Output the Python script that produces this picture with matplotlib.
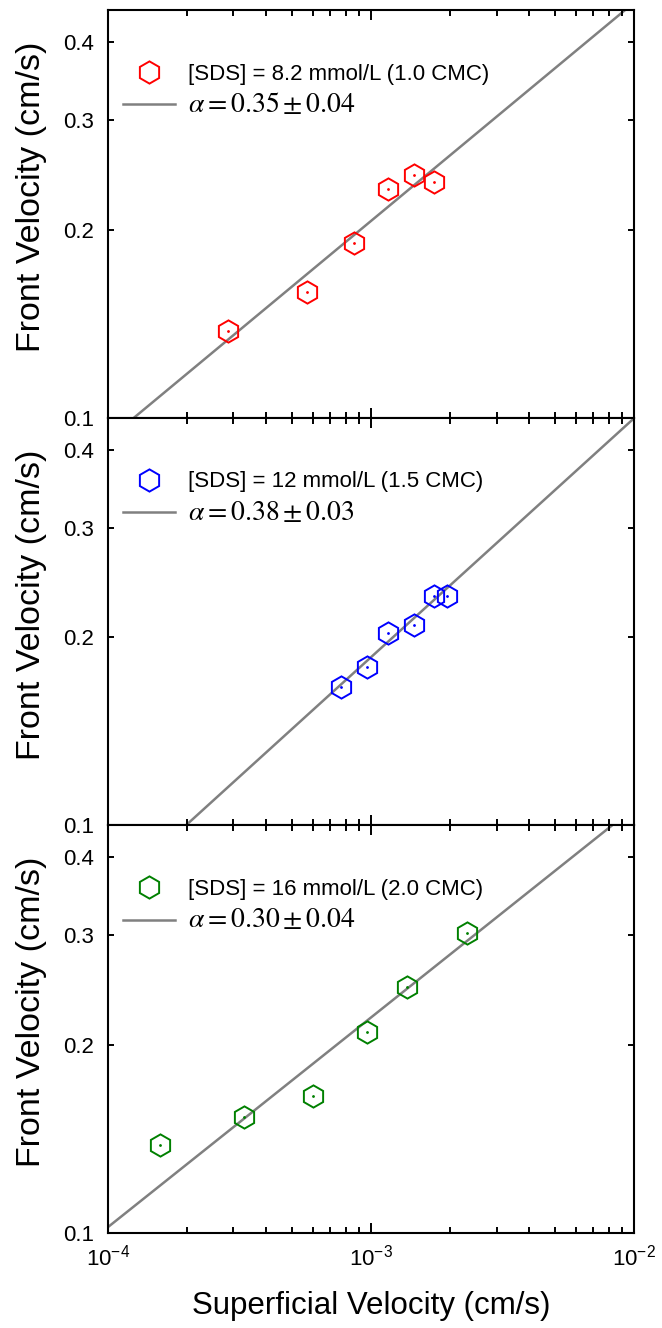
import numpy as np
import matplotlib.pyplot as plt
from matplotlib.lines import Line2D
from matplotlib.ticker import FixedLocator, FixedFormatter, LogLocator, NullFormatter, NullLocator

plt.rcParams['font.family'] = ['Liberation Sans', 'DejaVu Sans']

# superficial velocity (cm/s) vs front velocity (cm/s)
u_10 = [2.85e-4, 5.72e-4, 8.64e-4, 1.16e-3, 1.45e-3, 1.74e-3]
v_10 = [0.1375, 0.1588, 0.1905, 0.2325, 0.2445, 0.2383]
u_15 = [7.69e-4, 9.63e-4, 1.16e-3, 1.45e-3, 1.74e-3, 1.94e-3]
v_15 = [0.1663, 0.1794, 0.2036, 0.2092, 0.2330, 0.2330]
u_20 = [1.58e-4, 3.29e-4, 6.03e-4, 9.66e-4, 1.37e-3, 2.32e-3]
v_20 = [0.1385, 0.1537, 0.1656, 0.2097, 0.2477, 0.3020]

series_u = [u_10, u_15, u_20]
series_v = [v_10, v_15, v_20]
labels = ['[SDS] = 8.2 mmol/L (1.0 CMC)',
          '[SDS] = 12 mmol/L (1.5 CMC)',
          '[SDS] = 16 mmol/L (2.0 CMC)']
alpha_labels = [r'$\alpha = 0.35 \pm 0.04$',
                r'$\alpha = 0.38 \pm 0.03$',
                r'$\alpha = 0.30 \pm 0.04$']
colors = ['#ff0000', '#0000ff', '#008000']

# power-law fit lines: front velocity at u = 1e-4 cm/s, and slope
fit_v0 = [0.0923, 0.0770, 0.1022]
fit_slope = [0.35, 0.383, 0.336]

xticks = [1e-4, 1e-3, 1e-2]
xticklabels = [r'$\mathregular{10^{-4}}$', r'$\mathregular{10^{-3}}$', r'$\mathregular{10^{-2}}$']
yticks = [0.1, 0.2, 0.3, 0.4]
yticklabels = ['0.1', '0.2', '0.3', '0.4']

fig, axes = plt.subplots(3, 1, figsize=(6.62, 13.28), dpi=100, sharex=True)
fig.subplots_adjust(left=0.163, right=0.958, top=0.9925, bottom=0.0715, hspace=0)

x_fit = np.array([1e-4, 1e-2])
gray = '#808080'

for i, ax in enumerate(axes):
    c = colors[i]
    ax.set_xscale('log')
    ax.set_yscale('log')
    y_fit = fit_v0[i] * (x_fit / 1e-4) ** fit_slope[i]
    ax.plot(x_fit, y_fit, color=gray, lw=1.8, zorder=1)
    ax.plot(series_u[i], series_v[i], ls='none', marker='h', ms=16,
            mfc='none', mec=c, mew=1.4, zorder=2)
    ax.plot(series_u[i], series_v[i], ls='none', marker='.', ms=2, color=c, zorder=3)

    ax.set_xlim(1e-4, 1e-2)
    ax.set_ylim(0.1, 0.45)
    ax.yaxis.set_major_locator(FixedLocator(yticks))
    ax.yaxis.set_major_formatter(FixedFormatter(yticklabels))
    ax.yaxis.set_minor_locator(NullLocator())
    ax.xaxis.set_major_locator(FixedLocator(xticks))
    ax.xaxis.set_major_formatter(FixedFormatter(xticklabels))
    ax.xaxis.set_minor_locator(LogLocator(base=10, subs=range(2, 10)))
    ax.xaxis.set_minor_formatter(NullFormatter())

    ax.tick_params(which='both', direction='in', top=True, right=True, width=1.4, labelsize=16)
    ax.tick_params(axis='x', which='major', length=7, pad=8)
    ax.tick_params(axis='x', which='minor', length=4.5)
    ax.tick_params(axis='y', which='major', length=4, pad=10)
    for s in ax.spines.values():
        s.set_linewidth(1.5)

    ax.set_ylabel('Front Velocity (cm/s)', fontsize=24.5)
    ax.yaxis.set_label_coords(-0.115, 0.542)

    h_mark = Line2D([], [], ls='none', marker='h', ms=16, mfc='none', mec=c, mew=1.4)
    h_line = Line2D([], [], color=gray, lw=1.8)
    leg = ax.legend([h_mark, h_line], [labels[i], alpha_labels[i]],
                    loc='upper left', bbox_to_anchor=(0.0285, 0.868),
                    frameon=False, fontsize=16, handlelength=2.35,
                    handletextpad=0.6, borderpad=0, borderaxespad=0,
                    labelspacing=0.32)
    t = leg.get_texts()[1]
    t.set_math_fontfamily('stix')
    t.set_fontsize(20)

axes[2].set_xlabel('Superficial Velocity (cm/s)', fontsize=22.5, labelpad=15)

fig.savefig('out.png', dpi=100)
